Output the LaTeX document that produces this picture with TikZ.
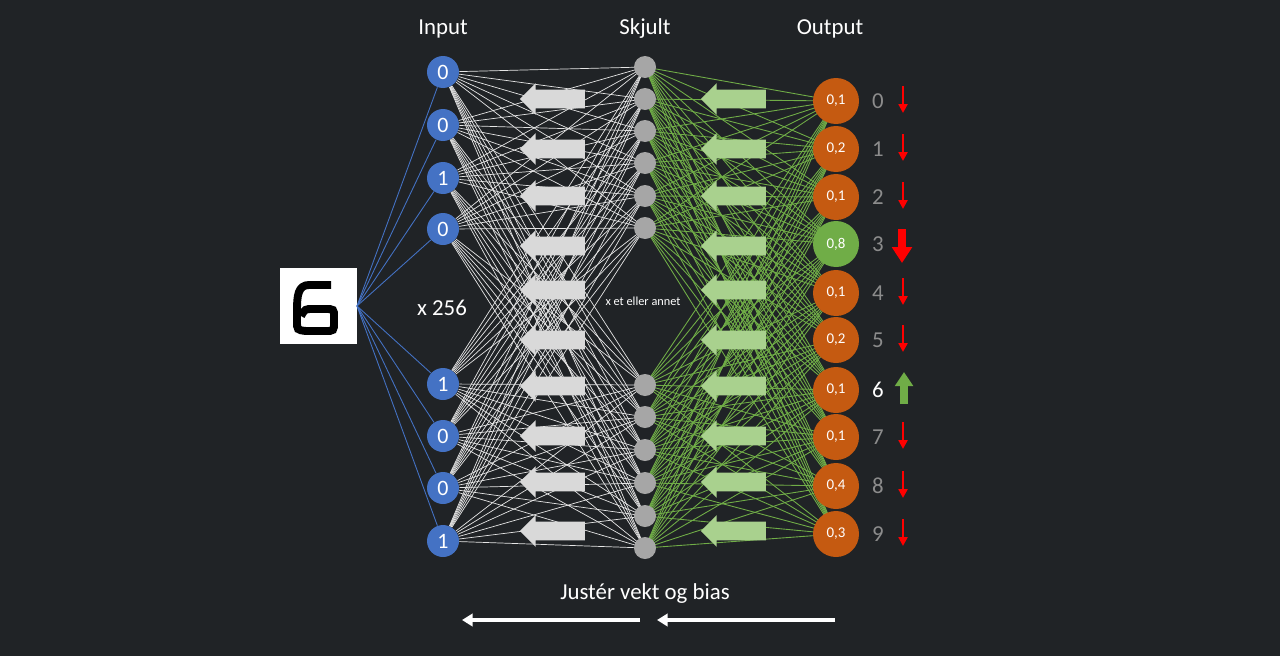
\documentclass[tikz,border=0pt]{standalone}
\usepackage{fontspec}
\setmainfont{Carlito}
\usepackage{tikz}
\usetikzlibrary{calc,shapes.arrows,arrows.meta}
\definecolor{bg}{HTML}{202326}
\definecolor{inblue}{HTML}{4472C4}
\definecolor{outorange}{HTML}{C55A11}
\definecolor{outgreen}{HTML}{70AD47}
\definecolor{hidgrey}{HTML}{A6A6A6}
\definecolor{backwhite}{HTML}{D9D9D9}
\definecolor{backgreen}{HTML}{A9D18E}
\definecolor{digitgrey}{HTML}{8C8C8C}
\tikzset{
  innode/.style={circle,fill=inblue,minimum size=0.64cm,inner sep=0pt,text=white,font=\fontsize{12.5}{12.5}\selectfont},
  hidnode/.style={circle,fill=hidgrey,minimum size=0.44cm,inner sep=0pt},
  outnode/.style={circle,fill=outorange,minimum size=0.92cm,inner sep=0pt,text=white,font=\fontsize{8.5}{8.5}\selectfont},
  back/.style={single arrow,shape border rotate=180,minimum height=1.3cm,minimum width=0.62cm,
    text height=0pt,text depth=0pt,inner ysep=0.18cm,inner xsep=0pt,single arrow head extend=0.13cm,fill=#1},
  title/.style={text=white,font=\fontsize{13}{13}\selectfont},
  down/.style={draw=red,line width=#1},
}
\begin{document}
\begin{tikzpicture}[x=0.02cm,y=-0.02cm]
  \fill[bg] (0,0) rectangle (1280,656);
  %% Picture of the digit
  \node[fill=white,minimum size=1.54cm,inner sep=0pt] (IMG) at (318.5,306) {};
  \draw[line width=4.5pt,black] (331,285) -- (309,285) .. controls (298,285) and (297,296) .. (297,310)
    -- (297,321) .. controls (297,330) .. (306,331) -- (325,331) .. controls (334,331) .. (334,322)
    -- (334,317) .. controls (334,309) .. (325,309) -- (313,309) .. controls (305,309) .. (301,316);
  \coordinate (IMGR) at (357,306);

  %% Nodes
  \foreach \i/\y/\v in {1/72/0,2/125/0,3/178/1,4/229/0,5/384/1,6/436/0,7/488/0,8/541/1}
    \node[innode] (IN\i) at (443,\y) {\v};
  \foreach \i/\y in {1/67,2/99,3/131,4/163,5/196,6/228,7/385,8/417,9/450,10/483,11/516,12/548}
    \coordinate (HC\i) at (645,\y);
  \foreach \i/\y in {0/101,1/149,2/197,3/244,4/293,5/340,6/390,7/437,8/486,9/534}
    \coordinate (OC\i) at (836,\y);

  %% Connections
  \foreach \i in {1,...,8}
  {
    \draw[inblue,line width=0.5pt] (IMGR) -- (IN\i);
    \foreach \j in {1,...,12}
      \draw[white!90!black,line width=0.4pt] (IN\i) -- (HC\j);
  }
  \foreach \j in {1,...,12}
    \foreach \k in {0,...,9}
      \draw[outgreen,line width=0.5pt] (HC\j) -- (OC\k);

  %% Backward arrows
  \foreach \y [count=\n] in {99,149,196,246,290,340,386,436,482,531}
  {
    \node[back=backwhite] (BW\n) at (557,\y) {};
    \node[back=backgreen] (BG\n) at (738,\y) {};
  }

  \foreach \j in {1,...,12}
    \node[hidnode] (H\j) at (HC\j) {};
  \foreach \k/\v in {0/{0,1},1/{0,2},2/{0,1},4/{0,1},5/{0,2},6/{0,1},7/{0,1},8/{0,4},9/{0,3}}
    \node[outnode] (O\k) at (OC\k) {\v};
  \node[outnode,fill=outgreen] (O3) at (OC3) {0,8};

  %% Class labels and changes
  \foreach \k in {0,1,2,3,4,5,7,8,9}
    \node[title,text=digitgrey] (L\k) at ($(OC\k)+(42,0)$) {\k};
  \node[title] (L6) at ($(OC6)+(42,0)$) {6};
  \foreach \k in {0,1,2,4,5,7,8,9}
  {
    \coordinate (A\k) at ($(OC\k)+(67,-15)$);
    \coordinate (B\k) at ($(OC\k)+(67,12)$);
    \draw[down=1.4pt,-{Triangle[length=5pt,width=5pt]}] (A\k) -- (B\k);
  }
  \coordinate (A3) at ($(OC3)+(66,-15)$);
  \coordinate (B3) at ($(OC3)+(66,19)$);
  \draw[down=5pt,-{Triangle[length=9pt,width=11pt]}] (A3) -- (B3);
  \coordinate (A6) at ($(OC6)+(68,14)$);
  \coordinate (B6) at ($(OC6)+(68,-18)$);
  \draw[outgreen,line width=5pt,-{Triangle[length=8pt,width=10pt]}] (A6) -- (B6);

  %% Labels
  \node[title] (INPUT) at (443,29) {Input};
  \node[title] (SKJULT) at (645,29) {Skjult};
  \node[title] (OUTPUT) at (830,29) {Output};
  \node[title] (MANY) at (442,308) {x 256};
  \node[text=white,font=\fontsize{7}{7}\selectfont] (OTHER) at (643,301) {x et eller annet};
  \node[title] (ADJUST) at (645,594) {Justér vekt og bias};
  \coordinate (S1) at (640,620);
  \coordinate (E1) at (462,620);
  \coordinate (S2) at (835,620);
  \coordinate (E2) at (657,620);
  \draw[white,line width=2pt,-{Triangle[length=6pt,width=7pt]}] (S1) -- (E1);
  \draw[white,line width=2pt,-{Triangle[length=6pt,width=7pt]}] (S2) -- (E2);
\end{tikzpicture}
\end{document}
